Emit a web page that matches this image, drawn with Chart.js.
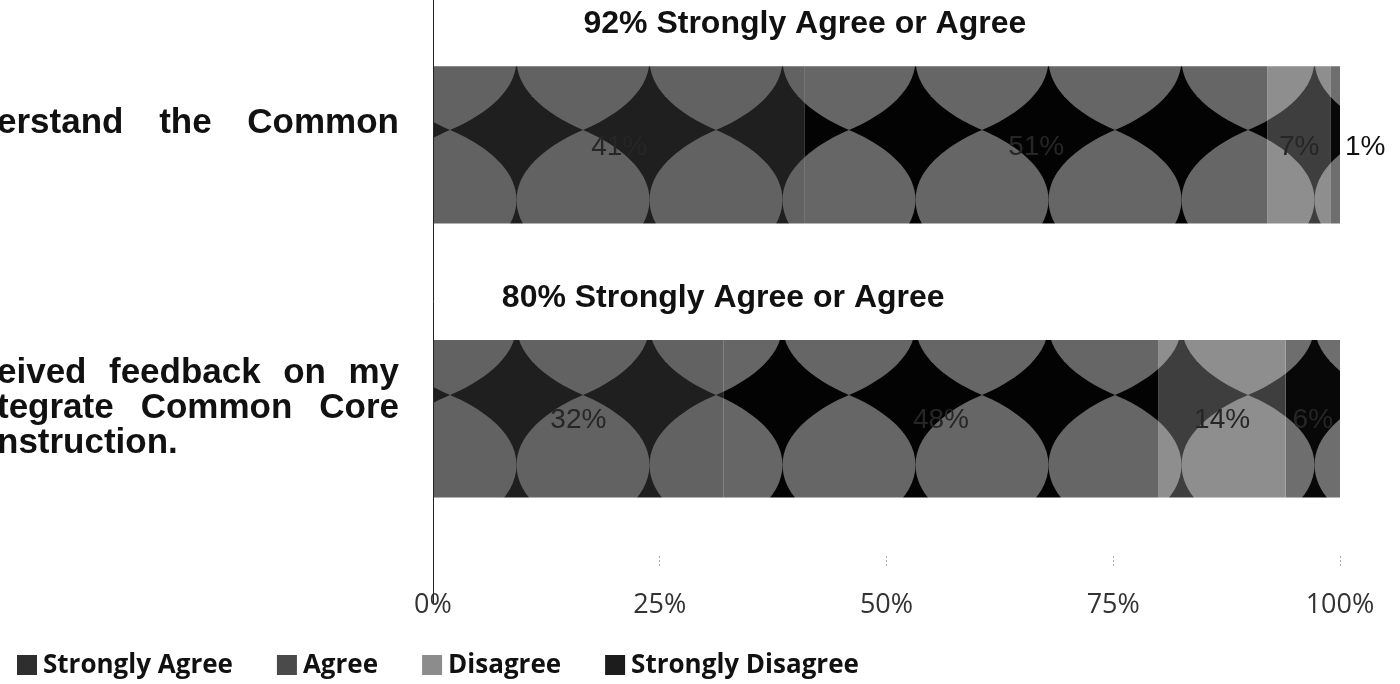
<!DOCTYPE html>
<html><head><meta charset="utf-8">
<script src="https://cdn.jsdelivr.net/npm/chart.js@4.4.1/dist/chart.umd.min.js"></script>
<style>html,body{margin:0;padding:0;background:#fff;overflow:hidden}</style>
</head><body>
<canvas id="c" width="1400" height="684"></canvas>
<script>
// ---- data ----
const categoryLines = [
  ["erstand the Common"],
  ["eived feedback on my", "tegrate Common Core", "nstruction."]
];
const seriesNames = ["Strongly Agree", "Agree", "Disagree", "Strongly Disagree"];
const stronglyAgree    = [41, 32];
const agree            = [51, 48];
const disagree         = [7, 14];
const stronglyDisagree = [1, 6];
const tickValues = [0, 25, 50, 75, 100];
const summarySuffix = "% Strongly Agree or Agree";

// ---- styling ----
const canvas = document.getElementById('c');
const ctx = canvas.getContext('2d');
const seriesStyle = [
  {bg: '#1f1f1f', lens: '#626262', legend: '#2e2e2e'},
  {bg: '#030303', lens: '#666666', legend: '#4a4a4a'},
  {bg: '#3e3e3e', lens: '#8e8e8e', legend: '#8c8c8c'},
  {bg: '#080808', lens: '#6e6e6e', legend: '#1c1c1c'}
];
const rowOffsetY = [60, 45];
const TW = 133, TV = 140;
function lensPath(g, cx, cy, w, h) {
  g.beginPath();
  g.moveTo(cx, cy - h/2);
  g.bezierCurveTo(cx + w*0.2, cy - h*0.42, cx + w/2, cy - h*0.25, cx + w/2, cy);
  g.bezierCurveTo(cx + w/2, cy + h*0.25, cx + w*0.2, cy + h*0.42, cx, cy + h/2);
  g.bezierCurveTo(cx - w*0.2, cy + h*0.42, cx - w/2, cy + h*0.25, cx - w/2, cy);
  g.bezierCurveTo(cx - w/2, cy - h*0.25, cx - w*0.2, cy - h*0.42, cx, cy - h/2);
  g.closePath();
  g.fill();
}
function makePattern(style, offY) {
  const c = document.createElement('canvas');
  c.width = TW; c.height = TV;
  const g = c.getContext('2d');
  g.fillStyle = style.bg; g.fillRect(0, 0, TW, TV);
  g.fillStyle = style.lens;
  const cx0 = 583 % TW, cy0 = ((offY % TV) + TV) % TV;
  for (let dx = -1; dx <= 1; dx++) for (let dy = -1; dy <= 1; dy++)
    lensPath(g, cx0 + dx*TW, cy0 + dy*TV, TW, TV);
  return ctx.createPattern(c, 'repeat');
}
const patterns = seriesStyle.map(s => rowOffsetY.map(o => makePattern(s, o)));

const seriesValues = [stronglyAgree, agree, disagree, stronglyDisagree];
const datasets = seriesNames.map((name, i) => ({
  label: name,
  data: seriesValues[i],
  backgroundColor: (c) => patterns[c.datasetIndex][c.dataIndex] || seriesStyle[c.datasetIndex].legend,
  borderWidth: 0,
  categoryPercentage: 0.575,
  barPercentage: 1
}));

const overlay = {
  id: 'overlay',
  afterDatasetsDraw(chart) {
    const g = chart.ctx;
    const xs = chart.scales.x;
    g.save();
    // y axis line
    g.strokeStyle = '#222'; g.lineWidth = 1;
    g.beginPath(); g.moveTo(433.5, 0); g.lineTo(433.5, 603); g.stroke();
    // value labels
    g.textBaseline = 'middle';
    chart.data.datasets.forEach((ds, di) => {
      const meta = chart.getDatasetMeta(di);
      meta.data.forEach((el, i) => {
        const w = Math.abs(el.x - el.base);
        const txt = ds.data[i] + '%';
        g.font = '28px "Liberation Sans", Arial, sans-serif';
        if (w < 20) {
          g.fillStyle = '#111'; g.textAlign = 'left';
          g.fillText(txt, el.x + 5, el.y + 2);
        } else {
          g.fillStyle = '#262626'; g.textAlign = 'center';
          g.fillText(txt, (el.x + el.base) / 2, el.y + 2);
        }
      });
    });
    // summary titles above bars
    const m0 = chart.getDatasetMeta(0);
    m0.data.forEach((el, i) => {
      const top = el.y - el.height / 2;
      g.font = 'bold 32px "Liberation Sans", Arial, sans-serif';
      g.fillStyle = '#111'; g.textAlign = 'center'; g.textBaseline = 'middle';
      g.fillText((stronglyAgree[i] + agree[i]) + summarySuffix, xs.getPixelForValue(stronglyAgree[i]), top - 42);
    });
    // category labels (justified, clipped at left edge)
    g.font = 'bold 35px "Liberation Sans", Arial, sans-serif';
    g.fillStyle = '#111'; g.textAlign = 'left'; g.textBaseline = 'middle';
    const R = 399, L = -3, lh = 35;
    m0.data.forEach((el, i) => {
      const lines = categoryLines[i];
      const startY = i === 0 ? el.y - 22 : el.y - 45;
      lines.forEach((line, li) => {
        const y = startY + li * lh;
        const words = line.split(' ');
        const isLast = (i === 1 && li === lines.length - 1);
        if (isLast || words.length < 2) { g.fillText(line, L, y); return; }
        const tw = words.reduce((s, w) => s + g.measureText(w).width, 0);
        const gap = (R - L - tw) / (words.length - 1);
        let x = L;
        words.forEach(w => { g.fillText(w, x, y); x += g.measureText(w).width + gap; });
      });
    });
    // legend
    g.font = 'bold 26px "Open Sans", sans-serif';
    g.textBaseline = 'middle'; g.textAlign = 'left';
    let lx = 17; const ly = 665;
    chart.data.datasets.forEach((ds, di) => {
      g.fillStyle = seriesStyle[di].legend;
      g.fillRect(lx, ly - 10, 20, 20);
      g.fillStyle = '#111';
      g.fillText(ds.label, lx + 26, ly + 1);
      lx += 26 + g.measureText(ds.label).width + 44;
    });
    g.restore();
  }
};

new Chart(canvas, {
  type: 'bar',
  data: { labels: categoryLines.map(l => l.join(' ')), datasets },
  options: {
    indexAxis: 'y',
    responsive: false,
    animation: false,
    devicePixelRatio: 1,
    layout: { padding: { left: 433, right: 60, top: 8, bottom: 40 } },
    plugins: { legend: { display: false }, tooltip: { enabled: false } },
    scales: {
      x: {
        stacked: true, min: 0, max: 100,
        afterBuildTicks: (s) => { s.ticks = tickValues.map(v => ({ value: v })); },
        ticks: { callback: v => v + '%', color: '#333', font: { family: '"Open Sans", sans-serif', size: 27 }, padding: 22, maxRotation: 0 },
        grid: { drawOnChartArea: false, drawTicks: true, tickLength: 12, tickColor: '#aaa', tickBorderDash: [2, 2] },
        border: { display: false }
      },
      y: { stacked: true, display: false }
    }
  },
  plugins: [overlay]
});
</script>
</body></html>
